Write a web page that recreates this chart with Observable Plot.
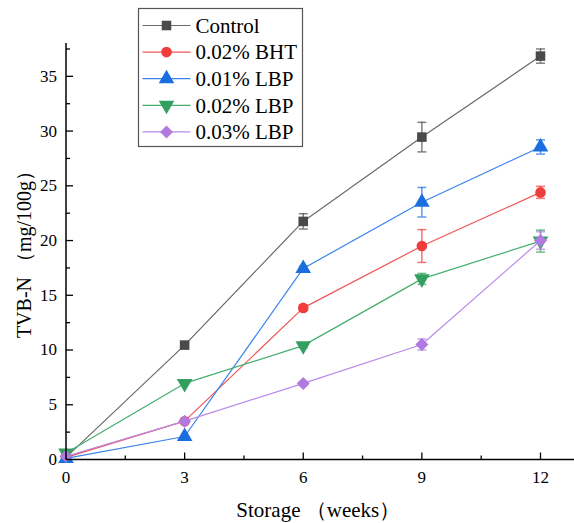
<!DOCTYPE html>
<html>
<head>
<meta charset="utf-8">
<script src="https://cdn.jsdelivr.net/npm/d3@7"></script>
<script src="https://cdn.jsdelivr.net/npm/@observablehq/plot@0.6"></script>
<style>
  html, body { margin: 0; padding: 0; background: #fff; }
  #wrap { position: relative; width: 574px; height: 523px; overflow: hidden; }
</style>
</head>
<body>
<div id="wrap"></div>
<script>
const weeks = [0, 3, 6, 9, 12];
const seriesNames = ["Control", "0.02% BHT", "0.01% LBP", "0.02% LBP", "0.03% LBP"];
const control = [0.2, 10.45, 21.75, 29.45, 36.85];
const bht     = [0.2, 3.5, 13.85, 19.5, 24.4];
const lbp01   = [0.1, 2.1, 17.45, 23.5, 28.55];
const lbp02   = [0.6, 6.95, 10.4, 16.5, 19.95];
const lbp03   = [0.3, 3.5, 6.95, 10.5, 20.0];
const controlErr = [0, 0, 0.7, 1.35, 0.65];
const bhtErr     = [0, 0, 0.25, 1.5, 0.55];
const lbp01Err   = [0, 0, 0.2, 1.35, 0.65];
const lbp02Err   = [0, 0, 0.2, 0.5, 1.0];
const lbp03Err   = [0, 0, 0.2, 0.5, 0.8];
const xTicks = [0, 3, 6, 9, 12];
const xMinor = [1.5, 4.5, 7.5, 10.5];
const yTicks = [0, 5, 10, 15, 20, 25, 30, 35];
const yMinor = [2.5, 7.5, 12.5, 17.5, 22.5, 27.5, 32.5, 37.5];
const xLabel = "Storage （weeks）";
const yLabel = "TVB-N （mg/100g）";

const styles = [
  {marker: "#4a4a4a", line: "#6a6a6a", symbol: "square", rotate: 0, r: 5.4},
  {marker: "#f03c3c", line: "#f05454", symbol: "circle", rotate: 0, r: 5.3},
  {marker: "#1a6ee0", line: "#3a84ea", symbol: "triangle", rotate: 0, r: 5.8},
  {marker: "#33a060", line: "#45ad6e", symbol: "triangle", rotate: 180, r: 5.8},
  {marker: "#b07ae0", line: "#b98ae8", symbol: "square", rotate: 45, r: 5.2}
];
const values = [control, bht, lbp01, lbp02, lbp03];
const errs = [controlErr, bhtErr, lbp01Err, lbp02Err, lbp03Err];

const data = [];
seriesNames.forEach((s, i) => weeks.forEach((w, j) =>
  data.push({series: s, idx: i, week: w, value: values[i][j], err: errs[i][j]})));

const capSym = {draw(ctx) { ctx.moveTo(-4.5, 0); ctx.lineTo(4.5, 0); }};
const tickRightMajor = {draw(ctx) { ctx.moveTo(0, 0); ctx.lineTo(7, 0); }};
const tickRightMinor = {draw(ctx) { ctx.moveTo(0, 0); ctx.lineTo(4, 0); }};
const tickUpMajor = {draw(ctx) { ctx.moveTo(0, 0); ctx.lineTo(0, -7); }};
const tickUpMinor = {draw(ctx) { ctx.moveTo(0, 0); ctx.lineTo(0, -4); }};

const font = "Liberation Serif, Times New Roman, serif";
const marks = [];
marks.push(Plot.axisY({ticks: yTicks, tickSize: 0, tickPadding: 9, fontSize: 17, label: null}));
marks.push(Plot.axisX({ticks: xTicks, tickSize: 0, tickPadding: 11, fontSize: 17, label: null}));

seriesNames.forEach((s, i) => {
  const st = styles[i];
  const d = data.filter(e => e.idx === i);
  const de = d.filter(e => e.err > 0);
  marks.push(Plot.line(d, {x: "week", y: "value", stroke: st.line, strokeWidth: 1.2}));
  marks.push(Plot.ruleX(de, {x: "week", y1: e => e.value - e.err, y2: e => e.value + e.err, stroke: st.marker, strokeOpacity: 0.7, strokeWidth: 1.5}));
  marks.push(Plot.dot(de, {x: "week", y: e => e.value - e.err, symbol: capSym, stroke: st.marker, strokeOpacity: 0.7, strokeWidth: 1.5, fill: "none"}));
  marks.push(Plot.dot(de, {x: "week", y: e => e.value + e.err, symbol: capSym, stroke: st.marker, strokeOpacity: 0.7, strokeWidth: 1.5, fill: "none"}));
  marks.push(Plot.dot(d, {x: "week", y: "value", symbol: st.symbol, rotate: st.rotate, r: st.r, fill: st.marker, stroke: "none"}));
});

// axis lines and inward ticks
marks.push(Plot.ruleX([0], {stroke: "#000", strokeWidth: 1.5}));
marks.push(Plot.ruleY([0], {stroke: "#000", strokeWidth: 1.5}));
marks.push(Plot.dot(yTicks.slice(1), {x: () => 0, y: d => d, symbol: tickRightMajor, stroke: "#000", strokeWidth: 1.3, fill: "none"}));
marks.push(Plot.dot(yMinor, {x: () => 0, y: d => d, symbol: tickRightMinor, stroke: "#000", strokeWidth: 1.3, fill: "none"}));
marks.push(Plot.dot(xTicks.slice(1), {x: d => d, y: () => 0, symbol: tickUpMajor, stroke: "#000", strokeWidth: 1.3, fill: "none"}));
marks.push(Plot.dot(xMinor, {x: d => d, y: () => 0, symbol: tickUpMinor, stroke: "#000", strokeWidth: 1.3, fill: "none"}));

marks.push(Plot.text([xLabel], {frameAnchor: "bottom", textAnchor: "middle", lineAnchor: "middle", dy: 51, dx: -2, fontSize: 21, fill: "#000"}));
marks.push(Plot.text([yLabel], {frameAnchor: "left", textAnchor: "middle", lineAnchor: "middle", dx: -41, dy: -2, rotate: -90, fontSize: 20, fill: "#000"}));

const chart = Plot.plot({
  width: 574,
  height: 523,
  marginLeft: 65.5,
  marginRight: 0,
  marginTop: 43,
  marginBottom: 64,
  style: {fontFamily: font, fontSize: "17px", background: "#fff", color: "#000", overflow: "visible"},
  x: {domain: [0, 12.86]},
  y: {domain: [0, 38]},
  marks
});
document.getElementById("wrap").append(chart);

// legend drawn inside the chart SVG (text inherits the chart font)
const svg = d3.select(chart);
const lg = svg.append("g").attr("transform", "translate(138.5,8.5)");
lg.append("rect").attr("width", 164).attr("height", 138)
  .attr("fill", "#fff").attr("stroke", "#555").attr("stroke-width", 1.2);
seriesNames.forEach((s, i) => {
  const st = styles[i];
  const cy = 17 + i * 26.6;
  lg.append("line").attr("x1", 4).attr("x2", 52).attr("y1", cy).attr("y2", cy)
    .attr("stroke", st.line).attr("stroke-width", 1.2);
  const symType = st.symbol === "circle" ? d3.symbolCircle : st.symbol === "triangle" ? d3.symbolTriangle : d3.symbolSquare;
  lg.append("path").attr("d", d3.symbol(symType, Math.PI * st.r * st.r)())
    .attr("transform", `translate(28,${cy}) rotate(${st.rotate})`)
    .attr("fill", st.marker);
  lg.append("text").attr("x", 57).attr("y", cy).attr("dy", "0.35em")
    .attr("text-anchor", "start")
    .style("font-size", "21px").attr("fill", "#000")
    .text(s);
});
</script>
</body>
</html>
